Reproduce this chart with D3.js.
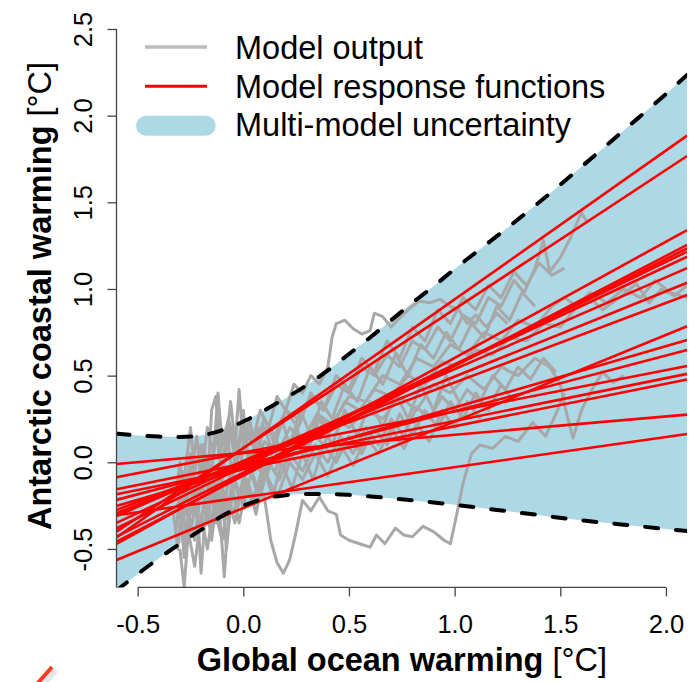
<!DOCTYPE html>
<html>
<head>
<meta charset="utf-8">
<script src="https://cdn.jsdelivr.net/npm/d3@7"></script>
<style>
  html, body { margin: 0; padding: 0; background: #fff; }
  svg { display: block; font-family: "Liberation Sans", Arial, Helvetica, sans-serif; }
</style>
</head>
<body>
<svg id="chart" width="693" height="682"></svg>
<script>
// ---------------- data ----------------
const xTicks = [-0.5, 0.0, 0.5, 1.0, 1.5, 2.0];
const yTicks = [-0.5, 0.0, 0.5, 1.0, 1.5, 2.0, 2.5];

const legendLabels = ["Model output", "Model response functions", "Multi-model uncertainty"];

// multi-model uncertainty band
const bandX     = [-0.6, -0.5, -0.4, -0.3, -0.2, -0.1, 0.0, 0.1, 0.2, 0.3, 0.4, 0.5, 0.6, 0.7, 0.8, 0.9, 1.0, 1.2, 1.4, 1.6, 1.8, 2.0, 2.1];
const bandUpper = [0.165, 0.155, 0.148, 0.146, 0.155, 0.185, 0.235, 0.30, 0.37, 0.445, 0.53, 0.625, 0.72, 0.82, 0.92, 1.015, 1.115, 1.305, 1.50, 1.705, 1.915, 2.125, 2.235];
const bandLower = [-0.74, -0.645, -0.555, -0.47, -0.39, -0.31, -0.25, -0.21, -0.19, -0.183, -0.183, -0.188, -0.197, -0.208, -0.22, -0.232, -0.245, -0.275, -0.305, -0.335, -0.36, -0.385, -0.397];

// model response functions: value at x = -0.6 and at x = 2.1
const rfX0 = -0.6, rfX1 = 2.1;
const rfLeft  = [-0.434, -0.40, -0.471, -0.458, -0.429, -0.381, -0.35, -0.31, -0.294, -0.275, -0.564, -0.252, -0.217, -0.087, -0.156, -0.185, -0.01, -0.306];
const rfRight = [ 1.885,  1.767, 1.34,   1.254,  1.234,  1.215,  1.186, 1.12,  1.036,  0.965,  0.785,  0.706,  0.648,  0.555,  0.51,   0.478,  0.275, 0.163];

// model output (global ocean warming, Antarctic coastal warming)
const out1 = [[-0.31,-0.25],[-0.29,-0.05],[-0.27,-0.3],[-0.25,0.0],[-0.22,-0.15],[-0.19,0.1],[-0.16,-0.1],[-0.13,0.15],[-0.1,0.0],[-0.07,0.2],[-0.04,0.05],[0.0,0.22],[0.04,0.1],[0.08,0.3],[0.12,0.2],[0.16,0.38],[0.2,0.3],[0.24,0.45],[0.28,0.4],[0.32,0.5],[0.36,0.45],[0.4,0.55],[0.42,0.72],[0.44,0.8],[0.48,0.82],[0.52,0.77],[0.56,0.74],[0.6,0.76],[0.62,0.86],[0.66,0.84],[0.7,0.78],[0.73,0.82],[0.78,0.88],[0.83,0.93],[0.88,0.92],[0.93,0.94],[0.98,0.9],[1.02,0.88],[1.06,0.8],[1.1,0.85],[1.15,0.78],[1.2,0.86],[1.25,0.8]];
const out2 = [[-0.32,-0.4],[-0.3,-0.2],[-0.28,-0.55],[-0.26,-0.3],[-0.23,-0.45],[-0.2,-0.15],[-0.17,-0.35],[-0.14,-0.1],[-0.1,-0.3],[-0.06,-0.05],[-0.02,-0.2],[0.02,0.0],[0.06,-0.15],[0.1,-0.2],[0.13,-0.45],[0.16,-0.58],[0.19,-0.64],[0.22,-0.56],[0.25,-0.4],[0.28,-0.22],[0.32,-0.28],[0.36,-0.2],[0.4,-0.28],[0.44,-0.3],[0.46,-0.42],[0.5,-0.45],[0.55,-0.47],[0.6,-0.49],[0.63,-0.42],[0.67,-0.47],[0.72,-0.38],[0.76,-0.42],[0.8,-0.43],[0.85,-0.37],[0.9,-0.4],[0.95,-0.45],[0.98,-0.47],[1.01,-0.3],[1.04,-0.12],[1.08,0.05],[1.12,0.1],[1.18,0.08],[1.24,0.15],[1.3,0.12],[1.37,0.23],[1.43,0.15],[1.48,0.28],[1.52,0.4]];
const out3 = [[-0.25,-0.1],[-0.22,0.15],[-0.2,-0.1],[-0.17,0.2],[-0.14,0.05],[-0.12,0.4],[-0.1,0.1],[-0.07,0.25],[-0.03,0.05],[0.0,0.2],[0.05,0.1],[0.1,0.25],[0.15,0.15],[0.2,0.3],[0.26,0.25],[0.32,0.38],[0.38,0.3],[0.44,0.45],[0.5,0.4],[0.56,0.55],[0.62,0.5],[0.68,0.62],[0.74,0.55],[0.8,0.7],[0.86,0.65],[0.92,0.78],[0.98,0.7],[1.04,0.85],[1.1,0.8],[1.16,0.95],[1.22,0.9],[1.28,1.05],[1.33,0.98],[1.38,1.12],[1.42,1.28],[1.45,1.1],[1.5,1.18],[1.55,1.3],[1.6,1.44],[1.63,1.38]];
const out4 = [[-0.2,-0.2],[-0.17,0.0],[-0.14,-0.25],[-0.11,-0.05],[-0.08,-0.3],[-0.05,-0.1],[-0.01,-0.2],[0.03,0.05],[0.08,-0.05],[0.13,0.1],[0.18,0.0],[0.24,0.15],[0.3,0.1],[0.36,0.25],[0.42,0.2],[0.48,0.35],[0.55,0.3],[0.62,0.42],[0.7,0.38],[0.78,0.5],[0.86,0.45],[0.94,0.58],[1.02,0.55],[1.1,0.65],[1.18,0.62],[1.26,0.72],[1.34,0.7],[1.42,0.8],[1.5,0.78],[1.58,0.9],[1.64,0.95],[1.7,0.88],[1.78,0.95],[1.86,1.03],[1.92,0.92],[1.98,1.0],[2.04,0.96],[2.1,1.02]];
const out5 = [[-0.05,-0.05],[0.0,0.1],[0.05,-0.05],[0.1,0.12],[0.16,0.05],[0.22,0.2],[0.28,0.12],[0.35,0.28],[0.42,0.22],[0.5,0.38],[0.58,0.35],[0.66,0.5],[0.74,0.45],[0.82,0.6],[0.9,0.55],[0.98,0.68],[1.06,0.62],[1.14,0.75],[1.22,0.7],[1.3,0.82],[1.38,0.78],[1.46,0.9],[1.52,0.95],[1.58,0.9],[1.64,0.98],[1.72,0.92],[1.8,1.0],[1.88,0.95],[1.95,1.05],[2.02,0.98],[2.1,0.95]];
const out6 = [[-0.3,-0.5],[-0.28,-0.72],[-0.26,-0.4],[-0.23,-0.6],[-0.2,-0.3],[-0.17,-0.5],[-0.14,-0.25],[-0.1,-0.45],[-0.07,-0.2],[-0.04,-0.35],[0.0,-0.1],[0.05,-0.2],[0.1,0.0],[0.15,-0.05],[0.2,0.1],[0.26,0.05],[0.32,0.18],[0.38,0.1],[0.44,0.25],[0.5,0.2],[0.58,0.3],[0.66,0.25],[0.74,0.38],[0.82,0.3],[0.9,0.45],[0.98,0.4],[1.06,0.5],[1.14,0.42],[1.22,0.55],[1.3,0.5],[1.38,0.6],[1.45,0.55],[1.5,0.45],[1.53,0.28],[1.56,0.14],[1.6,0.3],[1.65,0.42],[1.7,0.52],[1.75,0.46],[1.8,0.5]];
const out7 = [[-0.33,-0.3],[-0.31,-0.5],[-0.29,-0.2],[-0.27,-0.45],[-0.24,-0.15],[-0.21,-0.4],[-0.18,-0.2],[-0.15,-0.45],[-0.12,-0.15],[-0.09,-0.66],[-0.07,-0.3],[-0.04,-0.1],[0.0,-0.25],[0.04,-0.05],[0.08,-0.2],[0.12,0.0],[0.17,-0.1],[0.22,0.05],[0.28,-0.05],[0.34,0.1],[0.4,0.0],[0.46,0.15],[0.52,0.05],[0.58,0.2],[0.64,0.1],[0.7,0.25],[0.76,0.15],[0.82,0.32],[0.88,0.25],[0.94,0.38],[1.0,0.3],[1.06,0.42],[1.12,0.35],[1.18,0.5],[1.24,0.42],[1.3,0.55],[1.36,0.48],[1.42,0.6],[1.48,0.52]];
const out8 = [[-0.32,-0.2],[-0.3,0.0],[-0.28,-0.3],[-0.25,0.05],[-0.22,-0.25],[-0.19,0.1],[-0.16,-0.2],[-0.13,0.2],[-0.1,-0.1],[-0.06,0.35],[-0.03,0.0],[0.0,0.3],[0.03,-0.05],[0.07,0.2],[0.11,-0.1],[0.15,0.15],[0.2,0.0],[0.25,0.2],[0.3,0.05],[0.36,0.25],[0.42,0.1],[0.48,0.3],[0.54,0.15],[0.6,0.35],[0.66,0.2],[0.72,0.4],[0.78,0.25],[0.84,0.45],[0.9,0.3],[0.96,0.5],[1.02,0.35]];
const out9 = [[-0.3,-0.3],[-0.27,-0.1],[-0.25,-0.4],[-0.22,-0.2],[-0.2,-0.64],[-0.18,-0.3],[-0.15,-0.05],[-0.13,-0.35],[-0.1,-0.2],[-0.08,-0.5],[-0.05,-0.15],[-0.02,-0.35],[0.02,-0.1],[0.06,-0.3],[0.1,-0.05],[0.14,-0.2],[0.18,0.0],[0.23,-0.15],[0.28,0.05],[0.33,-0.1],[0.38,0.1],[0.44,0.0],[0.5,0.15],[0.56,0.05],[0.62,0.2],[0.68,0.1],[0.74,0.28],[0.8,0.15],[0.86,0.3],[0.92,0.2],[0.98,0.35],[1.04,0.25],[1.1,0.4],[1.16,0.3],[1.22,0.45],[1.28,0.35]];
const out10 = [[-0.1,0.0],[-0.06,0.15],[-0.02,-0.05],[0.02,0.2],[0.06,0.05],[0.1,0.25],[0.15,0.1],[0.2,0.3],[0.26,0.2],[0.32,0.4],[0.38,0.3],[0.44,0.5],[0.5,0.42],[0.56,0.6],[0.62,0.52],[0.68,0.7],[0.74,0.6],[0.8,0.78],[0.86,0.7],[0.92,0.88],[0.98,0.8],[1.04,0.95],[1.1,0.88],[1.16,1.02],[1.22,0.95],[1.28,1.1],[1.34,1.02],[1.4,1.15],[1.46,1.08],[1.52,1.12]];
const out11 = [[-0.25,-0.3],[-0.2,-0.1],[-0.15,-0.35],[-0.1,-0.15],[-0.05,-0.3],[0.0,-0.1],[0.05,-0.25],[0.1,-0.05],[0.16,-0.2],[0.22,0.0],[0.28,-0.1],[0.34,0.05],[0.4,-0.08],[0.46,0.1],[0.52,-0.02],[0.58,0.15],[0.64,0.05],[0.7,0.2],[0.76,0.08],[0.82,0.22],[0.88,0.12],[0.94,0.3],[1.0,0.2],[1.06,0.35],[1.12,0.25]];
const out12 = [[-0.28,-0.1],[-0.25,0.2],[-0.23,-0.05],[-0.2,0.1],[-0.17,-0.15],[-0.15,0.3],[-0.13,0.38],[-0.11,0.05],[-0.08,0.2],[-0.05,-0.1],[-0.02,0.42],[0.0,0.1],[0.03,0.25],[0.06,0.05],[0.1,0.2],[0.14,0.05],[0.18,0.25],[0.22,0.1],[0.27,0.3],[0.32,0.15],[0.37,0.35],[0.42,0.25],[0.48,0.45],[0.54,0.35],[0.6,0.55],[0.66,0.45],[0.72,0.62],[0.78,0.5],[0.84,0.68],[0.9,0.6],[0.96,0.75],[1.02,0.65],[1.08,0.8],[1.14,0.72],[1.2,0.9],[1.26,0.82],[1.32,0.98],[1.38,0.9]];
const modelOutputs = [out1, out2, out3, out4, out5, out6, out7, out8, out9, out10, out11, out12];

// ---------------- chart ----------------
const svg = d3.select("#chart");
const x = d3.scaleLinear().domain([-0.6, 2.1]).range([116.5, 687.1]);
const y = d3.scaleLinear().domain([-0.722, 2.5]).range([587.4, 29.0]);
const fmt = d => d.toFixed(1);

svg.append("defs").append("clipPath").attr("id", "plotclip")
  .append("rect")
  .attr("x", x(-0.6)).attr("y", y(2.5) - 40)
  .attr("width", x(2.1) - x(-0.6)).attr("height", y(-0.722) - y(2.5) + 40);

const plot = svg.append("g").attr("clip-path", "url(#plotclip)");

const band = bandX.map((v, i) => ({x: v, lo: bandLower[i], hi: bandUpper[i]}));
const curve = d3.curveMonotoneX;

plot.append("path")
  .datum(band)
  .attr("fill", "#add8e6")
  .attr("d", d3.area().curve(curve).x(d => x(d.x)).y0(d => y(d.lo)).y1(d => y(d.hi)));

const gline = d3.line().x(d => x(d[0])).y(d => y(d[1]));
plot.selectAll(".out").data(modelOutputs).join("path")
  .attr("class", "out")
  .attr("fill", "none")
  .attr("stroke", "#a8a8a8")
  .attr("stroke-width", 3)
  .attr("stroke-linejoin", "round")
  .attr("d", gline);

const rf = rfLeft.map((l, i) => [[rfX0, l], [rfX1, rfRight[i]]]);
plot.selectAll(".rf").data(rf).join("path")
  .attr("class", "rf")
  .attr("fill", "none")
  .attr("stroke", "#ff0000")
  .attr("stroke-width", 2.6)
  .attr("d", gline);

["hi", "lo"].forEach(k => {
  plot.append("path")
    .datum(band)
    .attr("fill", "none")
    .attr("stroke", "#000")
    .attr("stroke-width", 4)
    .attr("stroke-dasharray", "13,18")
    .attr("stroke-linecap", "round")
    .attr("d", d3.line().curve(curve).x(d => x(d.x)).y(d => y(d[k])));
});

// ---------------- axes ----------------
const axisColor = "#444";
const tickFont = 25.5;

const xAxis = svg.append("g").attr("transform", `translate(0,${y(-0.722)})`)
  .call(d3.axisBottom(x).tickValues(xTicks).tickSize(9).tickSizeOuter(0).tickFormat(fmt));
xAxis.select(".domain").remove();
xAxis.append("line")
  .attr("x1", x(xTicks[0])).attr("x2", x(xTicks[xTicks.length - 1]))
  .attr("y1", 0).attr("y2", 0).attr("stroke", axisColor).attr("stroke-width", 1.3);
xAxis.selectAll(".tick line").attr("stroke", axisColor).attr("stroke-width", 1.3);
xAxis.selectAll(".tick text")
  .attr("font-size", tickFont).attr("fill", "#000")
  .attr("font-family", "Liberation Sans, Arial, sans-serif")
  .attr("y", 45.3).attr("dy", 0);

const yAxis = svg.append("g").attr("transform", `translate(${x(-0.6)},0)`)
  .call(d3.axisLeft(y).tickValues(yTicks).tickSize(9).tickSizeOuter(0).tickFormat(fmt));
yAxis.select(".domain").remove();
yAxis.append("line")
  .attr("x1", 0).attr("x2", 0)
  .attr("y1", y(yTicks[yTicks.length - 1])).attr("y2", y(-0.722))
  .attr("stroke", axisColor).attr("stroke-width", 1.3);
yAxis.selectAll(".tick line").attr("stroke", axisColor).attr("stroke-width", 1.3);
yAxis.selectAll(".tick text")
  .attr("font-size", tickFont).attr("fill", "#000")
  .attr("font-family", "Liberation Sans, Arial, sans-serif")
  .attr("transform", "rotate(-90)")
  .attr("text-anchor", "middle")
  .attr("x", 0).attr("y", -24.8).attr("dy", 0);

// axis titles
const xt = svg.append("text")
  .attr("x", (x(-0.6) + x(2.1)) / 2).attr("y", 671)
  .attr("text-anchor", "middle").attr("font-size", 32.5).attr("fill", "#000");
xt.append("tspan").attr("font-weight", "bold").text("Global ocean warming");
xt.append("tspan").text(" [°C]");

const yt = svg.append("text")
  .attr("transform", "translate(51,296) rotate(-90)")
  .attr("text-anchor", "middle").attr("font-size", 32.5).attr("fill", "#000");
yt.append("tspan").attr("font-weight", "bold").text("Antarctic coastal warming");
yt.append("tspan").text(" [°C]");

// ---------------- legend ----------------
const lg = svg.append("g");
lg.append("line").attr("x1", 145).attr("x2", 207).attr("y1", 47).attr("y2", 47)
  .attr("stroke", "#bdbdbd").attr("stroke-width", 3.3);
lg.append("line").attr("x1", 145).attr("x2", 207).attr("y1", 86.3).attr("y2", 86.3)
  .attr("stroke", "#ff0000").attr("stroke-width", 3);
lg.append("rect").attr("x", 136).attr("y", 115.7).attr("width", 79.7).attr("height", 20)
  .attr("rx", 10).attr("fill", "#add8e6");
const lgBase = [59.3, 97.7, 136.3];
legendLabels.forEach((t, i) => {
  lg.append("text").attr("x", 235).attr("y", lgBase[i])
    .attr("font-size", 32.5).attr("fill", "#000").text(t);
});

// stray mark at the lower-left corner of the source image
svg.append("line").attr("x1", 39).attr("y1", 684).attr("x2", 53).attr("y2", 668)
  .attr("stroke", "#e8e8e8").attr("stroke-width", 6).attr("transform", "translate(3,2)");
svg.append("line").attr("x1", 37).attr("y1", 684).attr("x2", 52).attr("y2", 667)
  .attr("stroke", "#ff3b1f").attr("stroke-width", 4);
</script>
</body>
</html>
